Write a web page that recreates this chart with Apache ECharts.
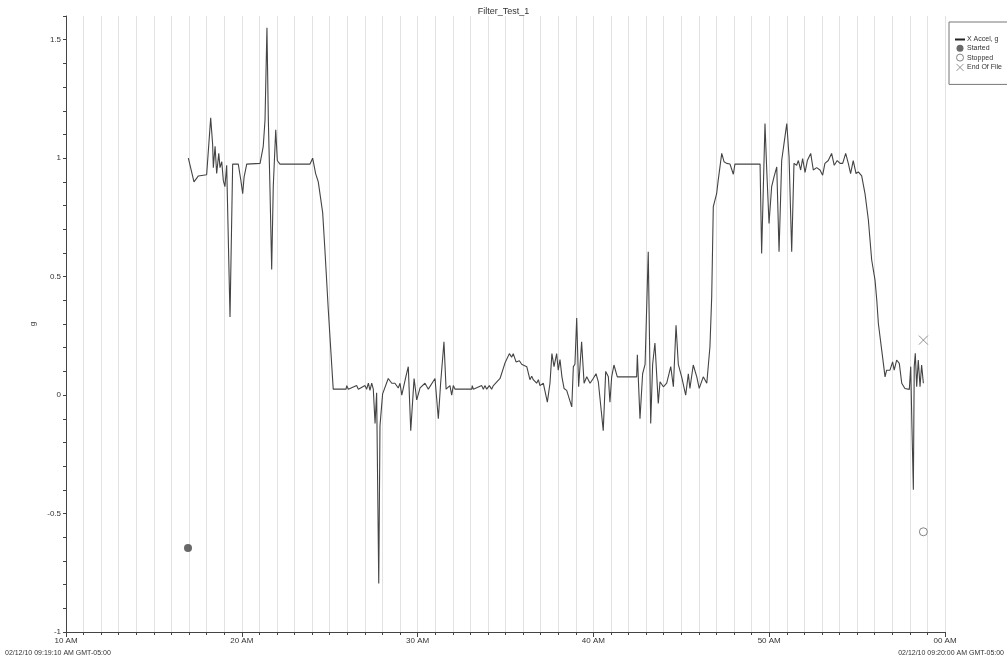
<!DOCTYPE html>
<html>
<head>
<meta charset="utf-8">
<script src="https://cdn.jsdelivr.net/npm/echarts@6/dist/echarts.min.js"></script>
<style>html,body{margin:0;padding:0;background:#fff}#c{width:1007px;height:662px}</style>
</head>
<body>
<div id="c"></div>
<script>
const chartTitle = 'Filter_Test_1';
const xTickValues = [10, 20, 30, 40, 50, 60];
const xTickLabels = ['10 AM', '20 AM', '30 AM', '40 AM', '50 AM', '00 AM'];
const startLabel = '02/12/10 09:19:10 AM GMT-05:00';
const endLabel = '02/12/10 09:20:00 AM GMT-05:00';
const seriesNames = ['X Accel, g', 'Started', 'Stopped', 'End Of File'];

const times = [16.96,17.28,17.53,18.00,18.23,18.34,18.38,18.48,18.57,18.69,18.76,18.86,18.95,19.04,19.14,19.33,19.48,19.80,19.94,20.05,20.13,20.28,21.04,21.22,21.32,21.43,21.51,21.60,21.70,21.79,21.93,22.02,22.17,23.88,24.03,24.20,24.35,24.60,24.73,24.92,25.20,25.93,25.97,26.06,26.53,26.63,27.01,27.10,27.20,27.29,27.39,27.48,27.58,27.67,27.79,27.86,28.01,28.33,28.53,28.71,28.90,29.00,29.10,29.34,29.47,29.61,29.80,29.95,30.14,30.42,30.61,30.99,31.18,31.31,31.50,31.62,31.84,31.94,32.03,32.13,33.08,33.11,33.17,33.65,33.74,33.83,33.93,34.08,34.21,34.31,34.40,34.69,34.97,35.22,35.35,35.44,35.60,35.79,35.92,36.21,36.39,36.49,36.58,36.68,36.77,36.87,36.96,37.15,37.38,37.53,37.64,37.76,37.91,38.00,38.10,38.21,38.33,38.48,38.77,38.86,38.95,39.05,39.16,39.33,39.47,39.62,39.81,39.99,40.15,40.28,40.56,40.70,40.85,40.94,41.04,41.17,41.36,42.46,42.50,42.65,42.80,42.94,43.12,43.26,43.37,43.50,43.69,43.79,43.98,44.17,44.40,44.55,44.70,44.83,45.02,45.25,45.40,45.49,45.68,45.88,46.02,46.25,46.45,46.63,46.73,46.82,47.01,47.10,47.30,47.43,47.58,47.77,47.96,48.05,49.48,49.57,49.76,49.86,49.99,50.14,50.27,50.43,50.56,50.71,50.84,51.00,51.13,51.28,51.41,51.56,51.66,51.79,51.90,52.04,52.17,52.36,52.51,52.70,52.89,53.04,53.17,53.36,53.55,53.70,53.87,54.03,54.18,54.35,54.50,54.63,54.78,54.94,55.07,55.26,55.45,55.64,55.83,56.02,56.12,56.21,56.40,56.59,56.68,56.77,56.87,57.02,57.11,57.25,57.40,57.54,57.72,57.97,58.05,58.12,58.20,58.25,58.31,58.39,58.48,58.58,58.67,58.77];
const accel = [1.00,0.90,0.925,0.93,1.17,1.06,0.96,1.05,0.935,1.02,0.96,0.985,0.905,0.88,0.97,0.33,0.975,0.975,0.91,0.85,0.92,0.975,0.978,1.05,1.16,1.55,1.16,0.88,0.53,0.88,1.12,0.99,0.975,0.975,1.00,0.935,0.90,0.77,0.61,0.36,0.025,0.025,0.04,0.025,0.04,0.025,0.04,0.025,0.05,0.02,0.05,0.025,-0.12,0.01,-0.795,-0.13,0.005,0.07,0.05,0.05,0.03,0.05,0.0,0.08,0.12,-0.15,0.07,-0.02,0.03,0.05,0.025,0.07,-0.10,0.05,0.225,0.025,0.04,0.0,0.04,0.025,0.025,0.04,0.025,0.04,0.025,0.04,0.025,0.04,0.025,0.04,0.04,0.07,0.135,0.175,0.16,0.175,0.14,0.145,0.13,0.12,0.065,0.08,0.065,0.07,0.05,0.065,0.04,0.05,-0.03,0.05,0.175,0.12,0.175,0.105,0.15,0.077,0.028,0.02,-0.05,0.12,0.13,0.325,0.035,0.225,0.05,0.077,0.05,0.07,0.09,0.056,-0.15,0.10,0.077,-0.03,0.077,0.127,0.077,0.077,0.17,-0.10,0.09,0.13,0.605,-0.12,0.13,0.22,-0.035,0.056,0.035,0.05,0.12,0.035,0.295,0.13,0.077,0.0,0.09,0.028,0.127,0.077,0.028,0.077,0.05,0.205,0.415,0.795,0.85,0.907,1.02,0.985,0.978,0.975,0.932,0.975,0.975,0.598,1.146,0.95,0.724,0.88,0.92,0.963,0.605,0.99,1.06,1.146,1.005,0.605,0.978,0.97,0.99,0.95,0.998,0.94,0.99,1.02,0.95,0.96,0.95,0.928,0.978,0.99,1.02,0.97,0.99,0.978,0.978,1.02,0.978,0.935,0.99,0.935,0.942,0.925,0.85,0.74,0.57,0.485,0.40,0.302,0.19,0.077,0.105,0.098,0.105,0.14,0.105,0.148,0.134,0.05,0.028,0.024,0.12,-0.134,-0.40,0.12,0.176,0.035,0.148,0.035,0.127,0.05];

const startedPoint = [16.94, -0.645];
const stoppedPoint = [58.77, -0.577];
const endOfFilePoint = [58.77, 0.232];

const lineData = times.map((t, i) => [t, accel[i]]);
const FONT = 'Liberation Sans';

const chart = echarts.init(document.getElementById('c'), null, {renderer: 'canvas'});
chart.setOption({
  animation: false,
  backgroundColor: '#fff',
  title: {
    text: chartTitle, left: 'center', top: 2,
    textStyle: {fontFamily: FONT, fontSize: 9, fontWeight: 'normal', color: '#333'}
  },
  legend: {
    orient: 'vertical', left: 949, top: 22,
    data: [
      {name: seriesNames[0], itemStyle: {color: 'rgba(0,0,0,0)', borderColor: 'rgba(0,0,0,0)', borderWidth: 0}},
      {name: seriesNames[1]},
      {name: seriesNames[2], itemStyle: {borderWidth: 1}},
      {name: seriesNames[3], itemStyle: {borderWidth: 1}}
    ],
    itemWidth: 10, itemHeight: 7, itemGap: 1.8,
    padding: [14, 14, 13, 5],
    borderColor: '#777', borderWidth: 1,
    textStyle: {fontFamily: FONT, fontSize: 7, color: '#333', padding: [0, 0, 0, -3]},
    lineStyle: {width: 2, color: '#222'}
  },
  grid: {left: 66, right: 62, top: 16, bottom: 30, containLabel: false},
  xAxis: {
    type: 'value', min: 10, max: 60, interval: 10,
    axisLine: {show: true, onZero: false, lineStyle: {color: '#444', width: 1}},
    axisTick: {show: true, length: 5, lineStyle: {color: '#444'}},
    minorTick: {show: true, splitNumber: 10, length: 3, lineStyle: {color: '#444'}},
    splitLine: {show: true, lineStyle: {color: '#e2e2e2', width: 1}},
    minorSplitLine: {show: true, lineStyle: {color: '#e2e2e2', width: 1}},
    axisLabel: {
      fontFamily: FONT, fontSize: 8, color: '#333', margin: 5,
      showMinLabel: true, showMaxLabel: true,
      formatter: v => {
        const i = xTickValues.indexOf(Math.round(v));
        return i >= 0 ? xTickLabels[i] : '';
      }
    }
  },
  yAxis: {
    type: 'value', min: -1, max: 1.6, interval: 0.1,
    name: 'g', nameLocation: 'middle', nameGap: 29, nameRotate: 90,
    nameTextStyle: {fontFamily: FONT, fontSize: 8, color: '#333'},
    axisLine: {show: true, lineStyle: {color: '#444', width: 1}},
    axisTick: {show: true, length: 3, lineStyle: {color: '#444'}},
    splitLine: {show: false},
    axisLabel: {
      fontFamily: FONT, fontSize: 8, color: '#333', margin: 5,
      formatter: v => {
        const d = v * 2;
        return Math.abs(d - Math.round(d)) < 1e-6 ? String(Math.round(d) / 2) : '';
      }
    }
  },
  graphic: [
    {type: 'text', left: 5, top: 650, style: {text: startLabel, font: '7px "Liberation Sans"', fill: '#333'}},
    {type: 'text', right: 3, top: 650, style: {text: endLabel, font: '7px "Liberation Sans"', fill: '#333'}}
  ],
  series: [
    {
      name: seriesNames[0], type: 'line', data: lineData,
      symbol: 'none', showSymbol: false,
      lineStyle: {color: '#444', width: 1.1},
      itemStyle: {color: '#222'}
    },
    {
      name: seriesNames[1], type: 'scatter', data: [startedPoint],
      symbol: 'circle', symbolSize: 8,
      itemStyle: {color: '#444'}
    },
    {
      name: seriesNames[2], type: 'scatter', data: [stoppedPoint],
      symbol: 'circle', symbolSize: 8,
      itemStyle: {color: '#fff', borderColor: '#666', borderWidth: 1}
    },
    {
      name: seriesNames[3], type: 'scatter', data: [endOfFilePoint],
      symbol: 'path://M0,0L10,10M10,0L0,10', symbolSize: 9,
      itemStyle: {color: 'rgba(0,0,0,0)', borderColor: '#777', borderWidth: 1}
    }
  ]
});
</script>
</body>
</html>
